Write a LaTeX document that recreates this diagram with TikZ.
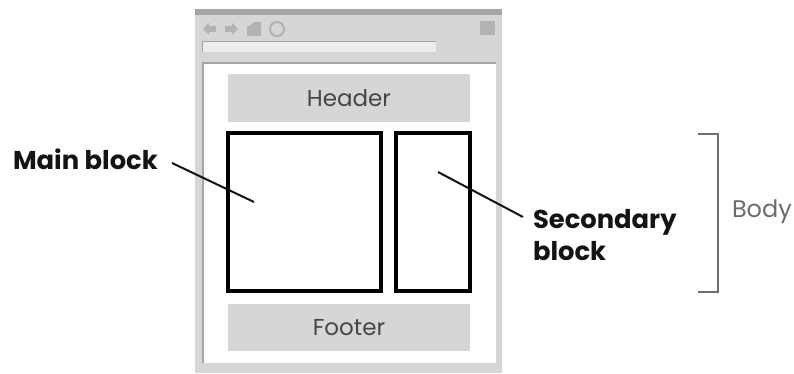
\documentclass[tikz,border=0pt]{standalone}
\usepackage{fontspec}
\setmainfont{Poppins}
\tikzset{
  grayblock/.style={fill=chromeColor,draw=none,inner sep=0pt,outer sep=0pt,text=labelColor,font=\fontsize{23}{27}\selectfont},
  layoutblock/.style={draw=black,fill=white,line width=4.5pt,inner sep=0pt,outer sep=0pt},
  calloutlabel/.style={text=calloutColor,inner sep=0pt,outer sep=0pt,font=\fontsize{25.8}{32}\selectfont\bfseries,align=left},
  calloutline/.style={draw=calloutColor,line width=2pt},
  icon/.style={fill=iconColor,draw=none},
}
\begin{document}
\begin{tikzpicture}[x=1pt,y=1pt]
\definecolor{chromeColor}{RGB}{214,214,214}
\definecolor{barColor}{RGB}{165,165,165}
\definecolor{iconColor}{RGB}{178,178,178}
\definecolor{labelColor}{RGB}{70,70,70}
\definecolor{calloutColor}{RGB}{20,20,20}
\definecolor{bracketColor}{RGB}{110,110,110}
\path[use as bounding box,fill=white] (0,0) rectangle (794,374);

% window
\path[fill=chromeColor] (195,1) rectangle (502,365);
\path[fill=barColor] (195,359) rectangle (502,365);
\path[fill=white] (203,11) rectangle (496,311);
\path[draw=barColor,line width=1.5pt] (203,11) -- (203,311) -- (496,311);

% toolbar
\path[icon] (203,345) -- (209,351) -- (209,348) -- (216,348) -- (216,342) -- (209,342) -- (209,339) -- cycle;
\path[icon] (238,345) -- (232,351) -- (232,348) -- (225,348) -- (225,342) -- (232,342) -- (232,339) -- cycle;
\path[icon] (247,338) -- (247,347) -- (255,352) -- (261,352) -- (261,338) -- cycle;
\path[draw=iconColor,line width=2pt] (277,345) circle (7);
\path[icon] (480,339) rectangle (495,353);
\path[fill=white!55!chromeColor] (202,322) rectangle (436,332);
\path[draw=barColor,line width=1pt] (202,322) -- (202,332.5) -- (436,332.5);

% page
\node[grayblock,minimum width=242pt,minimum height=48pt] (header) at (349,276) {Header};
\node[grayblock,minimum width=242pt,minimum height=47pt] (footer) at (349,46.5) {Footer};
\node[layoutblock,minimum width=153pt,minimum height=158pt] (mainblock) at (304.5,162) {};
\node[layoutblock,minimum width=74pt,minimum height=158pt] (secondaryblock) at (433,162) {};

% callouts
\node[calloutlabel,anchor=west] (mainlabel) at (13,215) {Main block};
\node[calloutlabel,anchor=west] (secondarylabel) at (533,139) {Secondary\\block};
\coordinate (mainstart) at (172,211);
\coordinate (maintip) at (254,172);
\coordinate (secondarystart) at (523,157);
\coordinate (secondarytip) at (438,202);
\path[calloutline] (mainstart) -- (maintip);
\path[calloutline] (secondarystart) -- (secondarytip);

% body bracket
\coordinate (brackettop) at (698,240);
\coordinate (bracketbottom) at (698,82);
\path[draw=bracketColor,line width=2pt] (brackettop) -- (718,240) -- (718,82) -- (bracketbottom);
\node[text=labelColor!80!white,inner sep=0pt,outer sep=0pt,anchor=west,font=\fontsize{24}{28}\selectfont] (bodylabel) at (732,162) {Body};
\end{tikzpicture}
\end{document}
